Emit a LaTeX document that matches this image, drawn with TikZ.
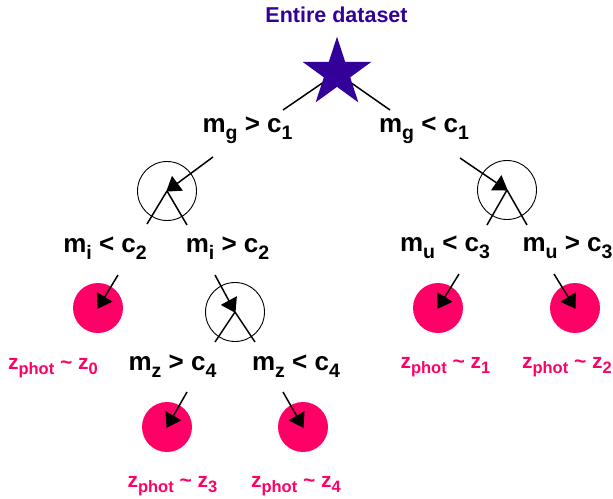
\documentclass[tikz,border=0pt]{standalone}
\usepackage{fontspec}
\setmainfont{Liberation Sans}
\usetikzlibrary{arrows.meta}
\definecolor{indigoc}{HTML}{330099}
\definecolor{pinkc}{HTML}{FF0066}
\newcommand\msb[1]{\raisebox{-7pt}{\fontsize{19.5}{21}\selectfont #1}}
\newcommand\zsb[1]{\raisebox{-5pt}{\fontsize{16.5}{18}\selectfont #1}}
\begin{document}
\begin{tikzpicture}[x=1pt,y=-1pt,
  lbl/.style={font=\fontsize{26}{30}\selectfont\bfseries, anchor=base, inner sep=0pt},
  zlbl/.style={font=\fontsize{21}{25}\selectfont\bfseries, anchor=base, inner sep=0pt, text=pinkc},
  decision/.style={circle, draw=black, line width=0.9pt, minimum size=59pt, inner sep=0pt},
  leaf/.style={circle, fill=pinkc, minimum size=50pt, inner sep=0pt},
  arr/.style={line width=1.5pt, -{Triangle[length=14pt,width=18pt]}, shorten >=-1pt},
  seg/.style={line width=1.5pt}]
\useasboundingbox (0,0) rectangle (613,498);

% title
\node[font=\fontsize{21.5}{25}\selectfont\bfseries, text=indigoc, anchor=base, inner sep=0pt] (title) at (336.5,22) {Entire dataset};

% root star
\coordinate (root) at (337,73);
\coordinate (r1) at (283,110);
\coordinate (r2) at (390,110);
\draw[seg] (root) -- (r1);
\draw[seg] (root) -- (r2);
\fill[indigoc] (root) +(-90:36.3) -- +(-54:13.87) -- +(-18:36.3) -- +(18:13.87) -- +(54:36.3)
  -- +(90:13.87) -- +(126:36.3) -- +(162:13.87) -- +(198:36.3) -- +(234:13.87) -- cycle;

% first level labels
\node[lbl] (l1a) at (247.5,132) {m\msb{g} > c\msb{1}};
\node[lbl] (l1b) at (424,132) {m\msb{g} < c\msb{1}};

% decision circles
\node[decision] (c1) at (167,191) {};
\node[decision] (c3) at (507,190) {};
\node[decision] (c2) at (235,312) {};

% leaves
\node[leaf] (p0) at (98,308) {};
\node[leaf] (p1) at (438,308) {};
\node[leaf] (p2) at (575,308) {};
\node[leaf] (p3) at (167,427) {};
\node[leaf] (p4) at (303,427) {};

% second level labels
\node[lbl] (l2a) at (105,252) {m\msb{i} < c\msb{2}};
\node[lbl] (l2b) at (227.5,252) {m\msb{i} > c\msb{2}};
\node[lbl] (l3a) at (445,251) {m\msb{u} < c\msb{3}};
\node[lbl] (l3b) at (567.5,251) {m\msb{u} > c\msb{3}};
\node[lbl] (l4a) at (172.5,370) {m\msb{z} > c\msb{4}};
\node[lbl] (l4b) at (296,370) {m\msb{z} < c\msb{4}};

% result labels
\node[zlbl] (z0) at (53,369) {z\zsb{phot} \char"7E{} z\zsb{0}};
\node[zlbl] (z1) at (445.5,368) {z\zsb{phot} \char"7E{} z\zsb{1}};
\node[zlbl] (z2) at (567,368) {z\zsb{phot} \char"7E{} z\zsb{2}};
\node[zlbl] (z3) at (172.5,487) {z\zsb{phot} \char"7E{} z\zsb{3}};
\node[zlbl] (z4) at (296,487) {z\zsb{phot} \char"7E{} z\zsb{4}};

% arrow start points
\coordinate (s1) at (213,157);
\coordinate (s3) at (460,158);
\coordinate (s2a) at (118,275);
\coordinate (s2b) at (215,275);
\coordinate (s3a) at (459,274);
\coordinate (s3b) at (554,274);
\coordinate (s4a) at (187,392);
\coordinate (s4b) at (283,392);

% branch ends
\coordinate (e1a) at (147,224);
\coordinate (e1b) at (187,225);
\coordinate (e3a) at (487,225);
\coordinate (e3b) at (527,225);
\coordinate (e2a) at (215,342);
\coordinate (e2b) at (255,342);

\draw[seg] (c1.center) -- (e1a);
\draw[seg] (c1.center) -- (e1b);
\draw[seg] (c3.center) -- (e3a);
\draw[seg] (c3.center) -- (e3b);
\draw[seg] (c2.center) -- (e2a);
\draw[seg] (c2.center) -- (e2b);

\draw[arr] (s1) -- (c1.center);
\draw[arr] (s3) -- (c3.center);
\draw[arr] (s2a) -- (p0.center);
\draw[arr] (s2b) -- (c2.center);
\draw[arr] (s3a) -- (p1.center);
\draw[arr] (s3b) -- (p2.center);
\draw[arr] (s4a) -- (p3.center);
\draw[arr] (s4b) -- (p4.center);
\end{tikzpicture}
\end{document}
